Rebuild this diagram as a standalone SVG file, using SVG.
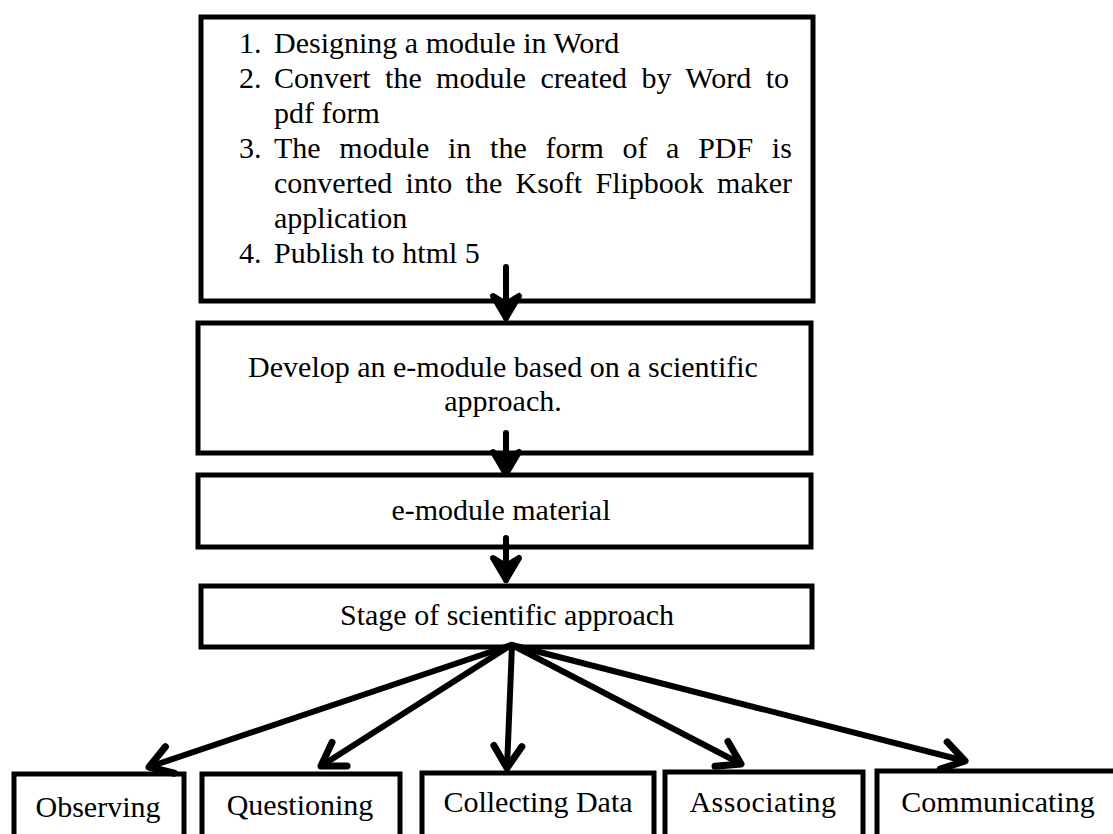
<svg xmlns="http://www.w3.org/2000/svg" width="1113" height="834" viewBox="0 0 1113 834">
  <style>
    .box { fill: #fff; stroke: #000; stroke-width: 5; }
    .t { font-family: "Liberation Serif", "Times New Roman", serif; font-size: 30px; fill: #000; }
    .c { text-anchor: middle; }
    .con { stroke: #000; stroke-width: 6; fill: none; stroke-linecap: round; }
  </style>
  <defs>
    <marker id="head" markerUnits="userSpaceOnUse" viewBox="-30 -20 36 40" refX="0" refY="0" markerWidth="36" markerHeight="40" orient="auto" overflow="visible">
      <path d="M-22,-14 L0,0 L-22,14" fill="none" stroke="#000" stroke-width="7" stroke-linecap="round" stroke-linejoin="round"/>
    </marker>
    <marker id="vhead" markerUnits="userSpaceOnUse" viewBox="-30 -20 36 40" refX="0" refY="0" markerWidth="36" markerHeight="40" orient="auto" overflow="visible">
      <path d="M-22,-13 L0,0 L-22,13 L-14,0 Z" fill="#000" stroke="#000" stroke-width="6" stroke-linejoin="round"/>
    </marker>
  </defs>
  <rect width="1113" height="834" fill="#fff"/>

  <g id="node-steps">
    <rect class="box" x="201" y="17" width="612" height="284"/>
    <text class="t" x="239" y="53">1.</text>
    <text class="t" x="274" y="53">Designing a module in Word</text>
    <text class="t" x="239" y="88">2.</text>
    <text class="t" x="274" y="88" word-spacing="6.9">Convert the module created by Word to</text>
    <text class="t" x="274" y="123">pdf form</text>
    <text class="t" x="239" y="158">3.</text>
    <text class="t" x="274" y="158" word-spacing="11.2">The module in the form of a PDF is</text>
    <text class="t" x="274" y="193" word-spacing="5.8">converted into the Ksoft Flipbook maker</text>
    <text class="t" x="274" y="228">application</text>
    <text class="t" x="239" y="263">4.</text>
    <text class="t" x="274" y="263">Publish to html 5</text>
  </g>

  <g id="node-develop">
    <rect class="box" x="198" y="323" width="613" height="130"/>
    <text class="t c" x="503" y="377">Develop an e-module based on a scientific</text>
    <text class="t c" x="503" y="411">approach.</text>
  </g>

  <g id="node-material">
    <rect class="box" x="198" y="475" width="613" height="72"/>
    <text class="t c" x="501" y="520">e-module material</text>
  </g>

  <g id="node-stage">
    <rect class="box" x="201" y="586" width="611" height="61"/>
    <text class="t c" x="507" y="625">Stage of scientific approach</text>
  </g>

  <g id="node-observing">
    <rect class="box" x="14" y="774" width="170" height="80"/>
    <text class="t c" x="98" y="817">Observing</text>
  </g>
  <g id="node-questioning">
    <rect class="box" x="202" y="774" width="198" height="80"/>
    <text class="t c" x="300" y="815">Questioning</text>
  </g>
  <g id="node-collecting">
    <rect class="box" x="422" y="773" width="232" height="80"/>
    <text class="t c" x="538" y="812">Collecting Data</text>
  </g>
  <g id="node-associating">
    <rect class="box" x="665" y="772" width="198" height="80"/>
    <text class="t c" x="763" y="812" letter-spacing="0.5">Associating</text>
  </g>
  <g id="node-communicating">
    <rect class="box" x="877" y="771" width="260" height="80"/>
    <text class="t c" x="998" y="812">Communicating</text>
  </g>

  <g id="connectors">
    <line class="con" x1="506" y1="267" x2="506" y2="318" marker-end="url(#vhead)"/>
    <line class="con" x1="506" y1="433" x2="506" y2="474" marker-end="url(#vhead)"/>
    <line class="con" x1="506" y1="538" x2="506" y2="580" marker-end="url(#vhead)"/>
    <line class="con" x1="511" y1="645" x2="149" y2="767" marker-end="url(#head)"/>
    <line class="con" x1="511" y1="645" x2="321" y2="766" marker-end="url(#head)"/>
    <line class="con" x1="512" y1="645" x2="507" y2="768" marker-end="url(#head)"/>
    <line class="con" x1="512" y1="645" x2="741" y2="764" marker-end="url(#head)"/>
    <line class="con" x1="512" y1="645" x2="965" y2="761" marker-end="url(#head)"/>
  </g>
</svg>
